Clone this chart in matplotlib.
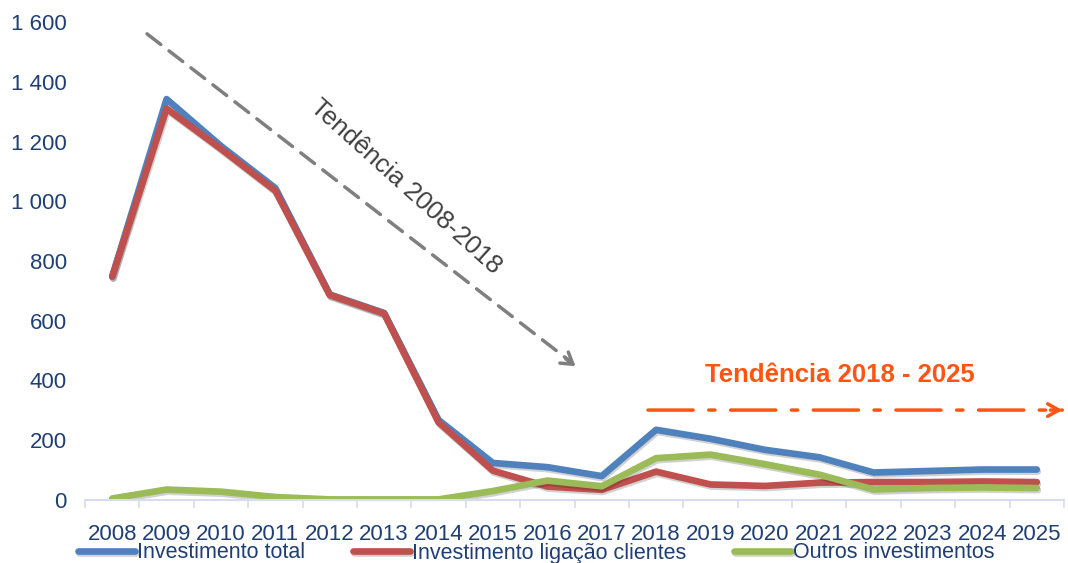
import matplotlib.pyplot as plt
import matplotlib.patheffects as pe
from matplotlib.ticker import FuncFormatter, FixedLocator

plt.rcParams['font.family'] = ['Liberation Sans Narrow', 'Liberation Sans', 'DejaVu Sans']

years = list(range(2008, 2026))
total = [748, 1342, 1185, 1044, 688, 626, 268, 124, 110, 80, 235, 205, 168, 143, 92, 97, 102, 102]
ligacao = [748, 1310, 1175, 1035, 686, 624, 260, 98, 45, 34, 95, 52, 47, 58, 60, 60, 62, 60]
outros = [5, 35, 28, 10, 2, 2, 2, 30, 65, 46, 140, 152, 120, 85, 35, 40, 42, 40]

blue = '#4F81BD'
red = '#C0504D'
green = '#9BBB59'
orange = '#FF5512'
tick_col = '#1F3F73'

fig = plt.figure(figsize=(10.68, 5.63), dpi=100)
ax = fig.add_axes([85 / 1068, 63 / 563, 979 / 1068, 478 / 563])

shadow = [pe.SimpleLineShadow(offset=(0.8, -1.5), alpha=0.18, shadow_color='black'), pe.Normal()]
ax.plot(years, total, color=blue, lw=4.8, label='Investimento total', path_effects=shadow, solid_capstyle='round')
ax.plot(years, ligacao, color=red, lw=4.8, label='Investimento ligação clientes', path_effects=shadow, solid_capstyle='round')
ax.plot(years, outros, color=green, lw=4.8, label='Outros investimentos', path_effects=shadow, solid_capstyle='round')

ax.set_xlim(2007.5, 2025.5)
ax.set_ylim(0, 1600)
ax.set_xticks(years)
ax.set_xticklabels([str(y) for y in years])
ax.xaxis.set_minor_locator(FixedLocator([y - 0.5 for y in years] + [2025.5]))
ax.tick_params(axis='x', which='major', length=0, pad=17, labelsize=16, labelcolor=tick_col)
ax.tick_params(axis='x', which='minor', length=6, color='#D5DDEE', width=1.2)
ax.set_yticks(range(0, 1601, 200))
ax.yaxis.set_major_formatter(FuncFormatter(lambda v, p: f'{int(v):,}'.replace(',', ' ')))
ax.tick_params(axis='y', length=0, pad=13, labelsize=16, labelcolor=tick_col)

for s in ['top', 'right', 'left']:
    ax.spines[s].set_visible(False)
ax.spines['bottom'].set_color('#D5DDEE')
ax.spines['bottom'].set_linewidth(1.5)

# gray trend arrow 2008-2018
ax.annotate('', xy=(2016.45, 460), xytext=(2008.6, 1566),
            arrowprops=dict(arrowstyle='-', color='#7F7F7F', lw=2.5, linestyle=(0, (5, 3))))
ax.annotate('', xy=(2016.56, 442), xytext=(2016.3, 478),
            arrowprops=dict(arrowstyle='->, head_length=0.8, head_width=0.5', color='#7F7F7F', lw=2.5))
ax.text(2013.4, 1048, 'Tendência 2008-2018', rotation=-42, rotation_mode='anchor',
        ha='center', va='center', fontsize=18.5, color='#404040',
        family=['Liberation Sans', 'DejaVu Sans'])

# orange trend arrow 2018-2025
ax.annotate('', xy=(2025.52, 301), xytext=(2017.8, 301), annotation_clip=False,
            arrowprops=dict(arrowstyle='-', color=orange, lw=2.5, linestyle=(0, (13, 4.5, 1.8, 4.5))))
ax.annotate('', xy=(2025.52, 301), xytext=(2025.2, 301), annotation_clip=False,
            arrowprops=dict(arrowstyle='->, head_length=0.8, head_width=0.45', color=orange, lw=2.5))
ax.text(2021.38, 418, 'Tendência 2018 - 2025', ha='center', va='center',
        fontsize=18.5, fontweight='bold', color=orange, family=['Liberation Sans', 'DejaVu Sans'])

leg = fig.legend(loc='center left', bbox_to_anchor=(78 / 1068, 10 / 563), ncol=3, frameon=False,
                 fontsize=15.5, handlelength=2.65, handletextpad=0.1, columnspacing=2.2,
                 borderpad=0, borderaxespad=0)
for t in leg.get_texts():
    t.set_color(tick_col)

plt.savefig('out.png', dpi=100)
